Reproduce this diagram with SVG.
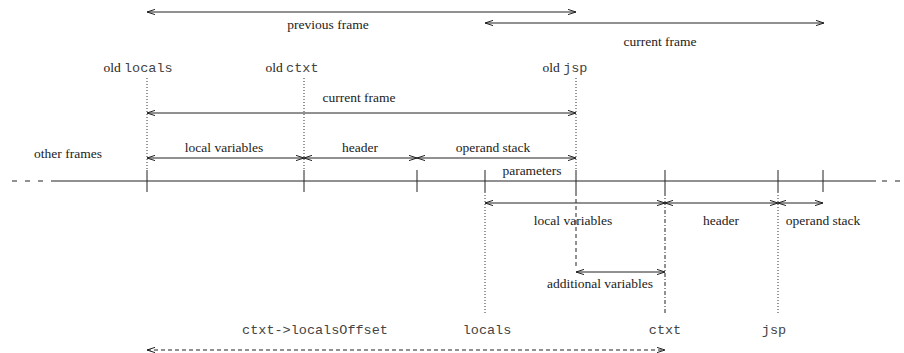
<svg xmlns="http://www.w3.org/2000/svg" width="904" height="353" viewBox="0 0 904 353">
  <defs>
    <marker id="ah" viewBox="-9 -4 10 8" refX="0" refY="0" markerWidth="10" markerHeight="8" markerUnits="userSpaceOnUse" orient="auto-start-reverse">
      <path d="M-8,-2.6 L0,0 L-8,2.6" fill="none" stroke="#222" stroke-width="1"/>
    </marker>
    <style>
      .ln { stroke: #222; stroke-width: 1; fill: none; }
      .arr { stroke: #222; stroke-width: 1; fill: none; marker-start: url(#ah); marker-end: url(#ah); }
      .dot { stroke: #333; stroke-width: 1; stroke-dasharray: 1 2; fill: none; }
      .dash { stroke: #222; stroke-width: 1; stroke-dasharray: 4 3; fill: none; }
      .dashdot { stroke: #222; stroke-width: 1; stroke-dasharray: 4 2 1 2; fill: none; }
      .edge { stroke: #222; stroke-width: 1; stroke-dasharray: 5 8; fill: none; }
      text { font-family: "Liberation Serif", "Times New Roman", serif; font-size: 13.5px; fill: #222; text-anchor: middle; }
      .mono { font-family: "Liberation Mono", "Courier New", monospace; fill: #444; }
    </style>
  </defs>

  <!-- the stack as a horizontal memory line with slot boundaries -->
  <g id="stack-line">
    <line class="edge" x1="12" y1="181" x2="52" y2="181"/>
    <line class="ln" x1="52" y1="181" x2="876" y2="181"/>
    <line class="edge" x1="882" y1="181" x2="904" y2="181"/>
    <line class="ln" x1="147" y1="170" x2="147" y2="192"/>
    <line class="ln" x1="304" y1="170" x2="304" y2="192"/>
    <line class="ln" x1="417" y1="170" x2="417" y2="192"/>
    <line class="ln" x1="485" y1="170" x2="485" y2="192"/>
    <line class="ln" x1="576" y1="170" x2="576" y2="192"/>
    <line class="ln" x1="665" y1="170" x2="665" y2="192"/>
    <line class="ln" x1="778" y1="170" x2="778" y2="192"/>
    <line class="ln" x1="823" y1="170" x2="823" y2="192"/>
  </g>

  <!-- pointer guide lines -->
  <g id="guides">
    <line class="dot" x1="147" y1="78" x2="147" y2="170"/>
    <line class="dot" x1="304" y1="78" x2="304" y2="170"/>
    <line class="dot" x1="576" y1="78" x2="576" y2="170"/>
    <line class="dot" x1="485" y1="192" x2="485" y2="314"/>
    <line class="dash" x1="576" y1="192" x2="576" y2="268"/>
    <line class="dashdot" x1="665" y1="192" x2="665" y2="314"/>
    <line class="dot" x1="778" y1="192" x2="778" y2="314"/>
  </g>

  <!-- extent arrows -->
  <g id="connectors">
    <line class="arr" x1="147" y1="12" x2="576" y2="12"/>
    <line class="arr" x1="485" y1="23" x2="824" y2="23"/>
    <line class="arr" x1="147" y1="113" x2="576" y2="113"/>
    <line class="arr" x1="147" y1="158" x2="304" y2="158"/>
    <line class="arr" x1="304" y1="158" x2="417" y2="158"/>
    <line class="arr" x1="417" y1="158" x2="576" y2="158"/>
    <line class="arr" x1="485" y1="203" x2="665" y2="203"/>
    <line class="arr" x1="665" y1="203" x2="778" y2="203"/>
    <line class="arr" x1="778" y1="203" x2="823" y2="203"/>
    <line class="arr" x1="576" y1="272" x2="665" y2="272"/>
    <line class="arr" x1="147" y1="350" x2="665" y2="350" stroke-dasharray="4 3"/>
  </g>

  <g id="label-previous-frame"><text x="328" y="29">previous frame</text></g>
  <g id="label-current-frame-new"><text x="660" y="46">current frame</text></g>
  <g id="label-old-locals"><text x="138" y="72">old <tspan class="mono">locals</tspan></text></g>
  <g id="label-old-ctxt"><text x="292" y="72">old <tspan class="mono">ctxt</tspan></text></g>
  <g id="label-old-jsp"><text x="565" y="72">old <tspan class="mono">jsp</tspan></text></g>
  <g id="label-current-frame"><text x="359" y="102">current frame</text></g>

  <g id="label-other-frames"><text x="68" y="158">other frames</text></g>
  <g id="label-local-variables-old"><text x="224" y="152">local variables</text></g>
  <g id="label-header-old"><text x="360" y="152">header</text></g>
  <g id="label-operand-stack-old"><text x="493" y="152">operand stack</text></g>
  <g id="label-parameters"><text x="532" y="175">parameters</text></g>

  <g id="label-local-variables"><text x="573" y="225">local variables</text></g>
  <g id="label-header"><text x="721" y="225">header</text></g>
  <g id="label-operand-stack"><text x="823" y="225">operand stack</text></g>
  <g id="label-additional-variables"><text x="600" y="288">additional variables</text></g>

  <g id="label-localsOffset"><text class="mono" x="315" y="334">ctxt-&gt;localsOffset</text></g>
  <g id="label-locals"><text class="mono" x="487" y="334">locals</text></g>
  <g id="label-ctxt"><text class="mono" x="665" y="334">ctxt</text></g>
  <g id="label-jsp"><text class="mono" x="774" y="334">jsp</text></g>
</svg>
